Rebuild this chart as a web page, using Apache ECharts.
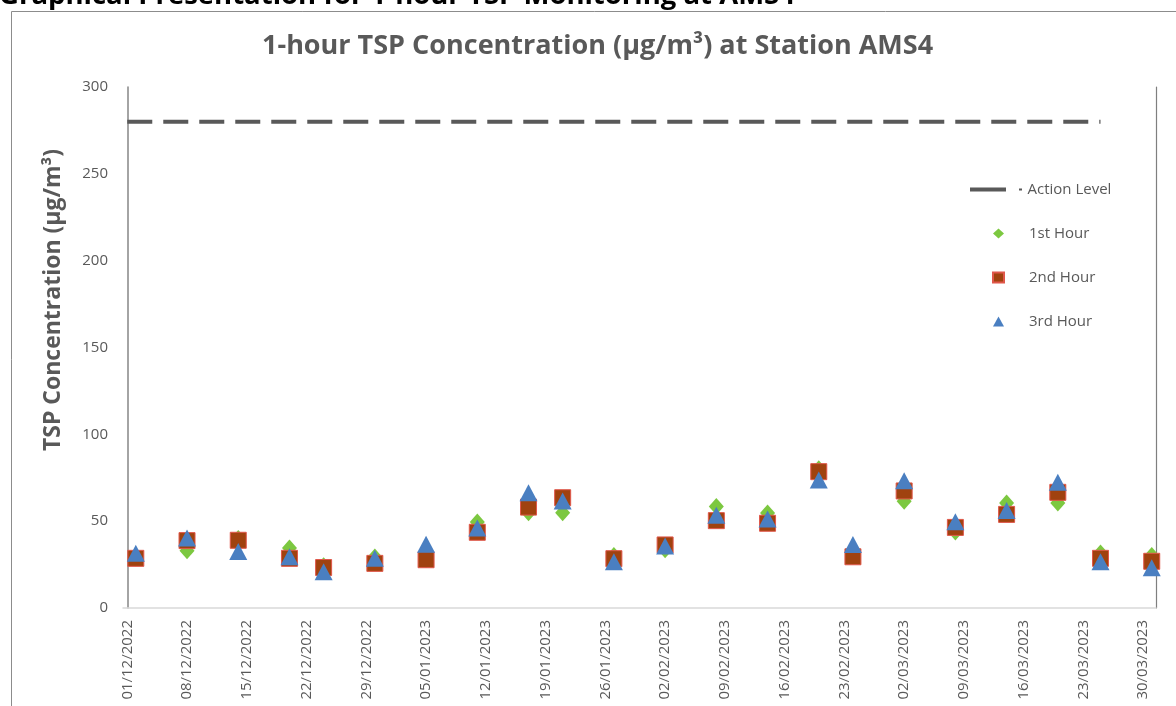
<!DOCTYPE html>
<html>
<head>
<meta charset="utf-8">
<script src="https://cdn.jsdelivr.net/npm/echarts@6/dist/echarts.min.js"></script>
<style>
  html, body { margin: 0; padding: 0; background: #fff; }
  #chart { width: 1176px; height: 706px; }
</style>
</head>
<body>
<div id="chart"></div>
<script>
// Sampling dates (dd/mm/yyyy read as yyyy-mm-dd)
const sampleDates = [
  '2022-12-02', '2022-12-08', '2022-12-14', '2022-12-20', '2022-12-24', '2022-12-30',
  '2023-01-05', '2023-01-11', '2023-01-17', '2023-01-21', '2023-01-27', '2023-02-02',
  '2023-02-08', '2023-02-14', '2023-02-20', '2023-02-24', '2023-03-02', '2023-03-08',
  '2023-03-14', '2023-03-20', '2023-03-25', '2023-03-31'
];

// 1-hour TSP results (µg/m³)
const firstHour  = [29.0, 33.0, 40.0, 34.5, 24.4, 29.4, 28.0, 49.5, 54.9, 54.9, 30.3, 33.6, 58.5, 54.7, 80.2, 30.0, 61.4, 43.8, 60.4, 60.4, 31.7, 30.3];
const secondHour = [28.6, 38.8, 39.0, 28.6, 23.3, 25.7, 27.8, 43.6, 58.1, 63.5, 28.4, 36.3, 50.3, 48.8, 78.5, 29.5, 67.4, 46.4, 53.9, 66.6, 28.6, 26.9];
const thirdHour  = [31.5, 40.3, 32.6, 29.5, 20.9, 28.6, 36.7, 46.0, 66.4, 61.6, 26.7, 35.7, 53.4, 51.2, 73.7, 36.5, 73.3, 49.7, 56.2, 72.4, 26.7, 23.2];

// Action Level line
const actionLevel = 280;
const actionDates = ['2022-12-01', '2023-03-25'];

// Axis range and tick labels
const axisStart = '2022-12-01';
const axisEnd = '2023-03-31';
const tickDates = [
  '2022-12-01', '2022-12-08', '2022-12-15', '2022-12-22', '2022-12-29', '2023-01-05',
  '2023-01-12', '2023-01-19', '2023-01-26', '2023-02-02', '2023-02-09', '2023-02-16',
  '2023-02-23', '2023-03-02', '2023-03-09', '2023-03-16', '2023-03-23', '2023-03-30'
];
const yTicks = { min: 0, max: 300, interval: 50 };

const DAY = 86400000;
function dayIndex(s) {
  const [y, m, d] = s.split('-').map(Number);
  const [y0, m0, d0] = axisStart.split('-').map(Number);
  return Math.round((Date.UTC(y, m - 1, d) - Date.UTC(y0, m0 - 1, d0)) / DAY);
}
function dayLabel(v) {
  const [y0, m0, d0] = axisStart.split('-').map(Number);
  const dt = new Date(Date.UTC(y0, m0 - 1, d0) + Math.round(v) * DAY);
  const dd = String(dt.getUTCDate()).padStart(2, '0');
  const mm = String(dt.getUTCMonth() + 1).padStart(2, '0');
  return dd + '/' + mm + '/' + dt.getUTCFullYear();
}
const pairs = vals => sampleDates.map((d, i) => [dayIndex(d), vals[i]]);

const FONT = '"Open Sans", "Noto Sans", sans-serif';
const GREY = '#595959';

const chart = echarts.init(document.getElementById('chart'), null, { renderer: 'canvas' });
chart.setOption({
  backgroundColor: '#ffffff',
  animation: false,
  textStyle: { fontFamily: FONT },
  title: {
    text: '1-hour TSP Concentration (µg/m³) at Station AMS4',
    left: 262,
    top: 33,
    padding: 0,
    textStyle: { fontFamily: FONT, fontSize: 27, fontWeight: 'bold', color: GREY }
  },
  graphic: [
    {
      type: 'text', left: -1, top: -18, silent: true,
      style: {
        text: 'Graphical Presentation for 1-hour TSP Monitoring at AMS4',
        font: 'bold 27.5px ' + FONT, fill: '#000'
      }
    },
    {
      type: 'rect', silent: true, z: -1,
      shape: { x: 11.5, y: 11.5, width: 1200, height: 720 },
      style: { fill: 'none', stroke: '#8c8c8c', lineWidth: 1 }
    },
    {
      type: 'text', silent: true,
      x: 53, y: 300, rotation: Math.PI / 2,
      style: {
        text: 'TSP Concentration (µg/m³)',
        font: 'bold 23px ' + FONT, fill: GREY,
        align: 'center', verticalAlign: 'middle'
      }
    }
  ],
  legend: [
    {
      orient: 'vertical',
      left: 970,
      top: 182,
      padding: 0,
      itemWidth: 53,
      itemHeight: 4,
      itemTextGap: 5,
      textStyle: { fontFamily: FONT, fontSize: 15, lineHeight: 15, color: GREY },
      data: [
        { name: 'Action Level', icon: 'path://M0,0H36V4H0Z M49,0.9H52V3.1H49Z', itemStyle: { color: GREY } }
      ]
    },
    {
      orient: 'vertical',
      left: 992,
      top: 226,
      padding: 0,
      itemWidth: 11,
      itemHeight: 10,
      itemGap: 29,
      itemTextGap: 5,
      textStyle: { fontFamily: FONT, fontSize: 15, lineHeight: 15, color: GREY, padding: [0, 0, 0, 20] },
      data: [
        { name: '1st Hour', icon: 'diamond' },
        { name: '2nd Hour', icon: 'rect' },
        { name: '3rd Hour', icon: 'triangle' }
      ]
    }
  ],
  grid: { left: 123, right: 20, top: 87, bottom: 98, containLabel: false },
  xAxis: {
    type: 'value',
    min: dayIndex(axisStart) - 0.5,
    max: dayIndex(axisEnd) + 0.5,
    axisLine: { show: true, lineStyle: { color: '#d9d9d9', width: 1.5 } },
    axisTick: { show: false },
    splitLine: { show: false },
    axisLabel: {
      customValues: tickDates.map(dayIndex),
      formatter: dayLabel,
      rotate: 90,
      margin: 12,
      fontSize: 15,
      color: GREY,
      fontFamily: FONT
    }
  },
  yAxis: [
    {
      type: 'value',
      min: yTicks.min, max: yTicks.max, interval: yTicks.interval,
      axisLine: { show: true, lineStyle: { color: '#868686', width: 1.5 } },
      axisTick: { show: false },
      splitLine: { show: false },
      axisLabel: { margin: 15, fontSize: 15, color: GREY, fontFamily: FONT }
    },
    {
      type: 'value', position: 'right',
      min: yTicks.min, max: yTicks.max, interval: yTicks.interval,
      axisLine: { show: true, lineStyle: { color: '#7f7f7f', width: 1.2 } },
      axisTick: { show: false }, axisLabel: { show: false }, splitLine: { show: false }
    }
  ],
  series: [
    {
      name: 'Action Level',
      type: 'line',
      data: actionDates.map(d => [dayIndex(d), actionLevel]),
      symbol: 'none',
      lineStyle: { color: GREY, width: 4, type: [25, 11] },
      itemStyle: { color: GREY },
      z: 2
    },
    {
      name: '1st Hour',
      type: 'scatter',
      data: pairs(firstHour),
      symbol: 'diamond',
      symbolSize: [15, 17],
      itemStyle: { color: '#7cc840', opacity: 1 },
      z: 3
    },
    {
      name: '2nd Hour',
      type: 'scatter',
      data: pairs(secondHour),
      symbol: 'rect',
      symbolSize: 16,
      itemStyle: { color: '#a0420f', borderColor: '#e0574a', borderWidth: 1, opacity: 1 },
      z: 4
    },
    {
      name: '3rd Hour',
      type: 'scatter',
      data: pairs(thirdHour),
      symbol: 'triangle',
      symbolSize: [18, 17],
      itemStyle: { color: '#4a7fc1', opacity: 1 },
      z: 5
    }
  ]
});
</script>
</body>
</html>
